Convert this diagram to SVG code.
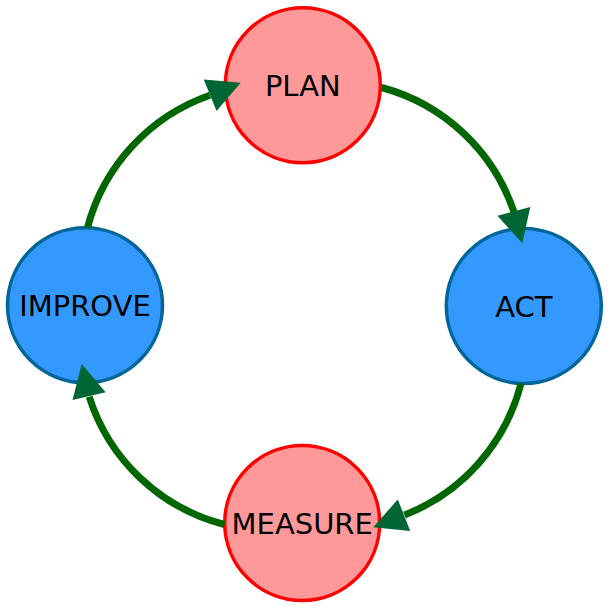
<svg xmlns="http://www.w3.org/2000/svg" xmlns:xlink="http://www.w3.org/1999/xlink" width="611" height="608" viewBox="0 0 611 608">
<style>
.edge{fill:none;stroke:#006600;stroke-width:7}
.ah{fill:#006633}
.red{fill:#ff9999;stroke:#ff0000;stroke-width:3.5}
.blue{fill:#3399ff;stroke:#006699;stroke-width:3.5}
.lbl{font-family:"DejaVu Sans",sans-serif;font-size:29px;fill:#000;text-anchor:middle}
</style>
<defs>
<path id="arrow" d="M0,0 L-33,-17 L-33,17 Z"/>
</defs>
<rect width="611" height="608" fill="#fff"/>
<g id="node-plan">
<circle class="red" cx="302.8" cy="85.3" r="77.5"/>
<text class="lbl" x="302.8" y="95.8">PLAN</text>
</g>
<g id="node-act">
<circle class="blue" cx="523.8" cy="306" r="77.5"/>
<text class="lbl" x="523.8" y="316.5">ACT</text>
</g>
<g id="node-measure">
<circle class="red" cx="302.2" cy="523" r="77.5"/>
<text class="lbl" x="302.2" y="533.5">MEASURE</text>
</g>
<g id="node-improve">
<circle class="blue" cx="85" cy="305.3" r="77.5"/>
<text class="lbl" x="85" y="315.8">IMPROVE</text>
</g>
<g id="connectors">
<path class="edge" d="M381.5,87.5 A192,192 0 0 1 514.2,212.7"/>
<use class="ah" href="#arrow" xlink:href="#arrow" transform="translate(522.3,243.3) rotate(75.2)"/>
<path class="edge" d="M521,383.5 A192,192 0 0 1 404.5,515"/>
<use class="ah" href="#arrow" xlink:href="#arrow" transform="translate(373.3,527.3) rotate(158.5)"/>
<path class="edge" d="M224.5,524.5 A192,192 0 0 1 89.2,396.7"/>
<use class="ah" href="#arrow" xlink:href="#arrow" transform="translate(81.7,364) rotate(-102.9)"/>
<path class="edge" d="M87.5,227.5 A192,192 0 0 1 210,95.2"/>
<use class="ah" href="#arrow" xlink:href="#arrow" transform="translate(240.7,82.7) rotate(-22.2)"/>
</g>
</svg>
